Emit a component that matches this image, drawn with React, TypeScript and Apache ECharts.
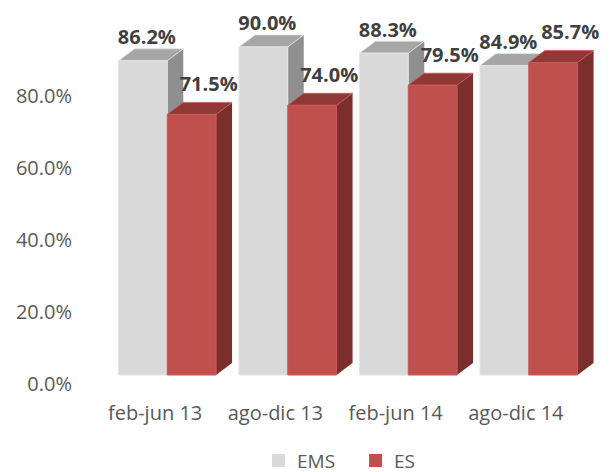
import React, { useEffect, useRef } from "react";
import * as echarts from "echarts";

const categories = ["feb-jun 13", "ago-dic 13", "feb-jun 14", "ago-dic 14"];
const emsValues = [86.2, 90.0, 88.3, 84.9];
const esValues = [71.5, 74.0, 79.5, 85.7];
const seriesNames = ["EMS", "ES"];

const FONT = "'Open Sans', sans-serif";
const DX = 16;
const DY = -12;

const palettes: Record<string, { front: string; top: string; side: string; edge: string }> = {
  EMS: { front: "#d9d9d9", top: "#a6a6a6", side: "#8f8f8f", edge: "#e4e4e4" },
  ES: { front: "#c0504d", top: "#8f3835", side: "#7a2f2d", edge: "#c65a57" },
};

function makeRender(name: string, side: number, labelDx: number, labelDy: number) {
  const pal = palettes[name];
  return (params: any, api: any) => {
    const idx = api.value(0);
    const val = api.value(1);
    const top = api.coord([idx, val]);
    const base = api.coord([idx, 0]);
    const band = api.size([1, 0])[0];
    const w = band * 0.405;
    const cx = top[0];
    const x0 = side < 0 ? cx - w : cx;
    const x1 = x0 + w;
    const yt = top[1];
    const yb = base[1];
    return {
      type: "group",
      children: [
        {
          type: "polygon",
          shape: { points: [[x1, yt], [x1 + DX, yt + DY], [x1 + DX, yb + DY], [x1, yb]] },
          style: { fill: pal.side },
        },
        {
          type: "polygon",
          shape: { points: [[x0, yt], [x1, yt], [x1 + DX, yt + DY], [x0 + DX, yt + DY]] },
          style: { fill: pal.top, stroke: pal.edge, lineWidth: 0.8 },
        },
        {
          type: "rect",
          shape: { x: x0, y: yt, width: w, height: yb - yt },
          style: { fill: pal.front, stroke: pal.edge, lineWidth: 1 },
        },
        {
          type: "text",
          z2: 100,
          style: {
            text: val.toFixed(1) + "%",
            x: (x0 + x1) / 2 + labelDx,
            y: yt + labelDy,
            align: "center",
            verticalAlign: "middle",
            fill: "#404040",
            font: "bold 20px " + FONT,
          },
        },
      ],
    };
  };
}

export default function App() {
  const ref = useRef<HTMLDivElement>(null);
  useEffect(() => {
    if (!ref.current) return;
    const chart = echarts.init(ref.current, null, { renderer: "svg" });
    chart.setOption({
      animation: false,
      backgroundColor: "#ffffff",
      grid: [
        { left: 95, right: 34, top: 23, bottom: 89 },
        { left: 107, right: 21, top: 10.5, bottom: 97 },
      ],
      xAxis: [
        {
          type: "category",
          gridIndex: 0,
          data: categories,
          axisLine: { show: false },
          axisTick: { show: false },
          axisLabel: { color: "#595959", fontSize: 20, fontFamily: FONT, margin: 19, interval: 0 },
        },
        {
          type: "category",
          gridIndex: 1,
          data: categories,
          show: false,
        },
      ],
      yAxis: [
        {
          type: "value",
          gridIndex: 0,
          min: 0,
          max: 100,
          interval: 20,
          axisLine: { show: false },
          axisTick: { show: false },
          splitLine: { show: false },
          axisLabel: {
            color: "#595959",
            fontSize: 20,
            fontFamily: FONT,
            margin: 23,
            formatter: (v: number) => (v >= 100 ? "" : v.toFixed(1) + "%"),
          },
        },
        { type: "value", gridIndex: 1, min: 0, max: 100, show: false },
      ],
      legend: {
        data: seriesNames,
        left: 267,
        top: 446,
        itemWidth: 13,
        itemHeight: 13,
        itemGap: 34,
        icon: "rect",
        textStyle: { color: "#595959", fontSize: 19, fontFamily: FONT, padding: [0, 0, 0, 7] },
      },
      series: [
        {
          name: "EMS",
          type: "custom",
          xAxisIndex: 1,
          yAxisIndex: 1,
          itemStyle: { color: "#d9d9d9" },
          renderItem: makeRender("EMS", -1, 4, -24),
          encode: { x: 0, y: 1 },
          data: emsValues.map((v, i) => [i, v]),
        },
        {
          name: "ES",
          type: "custom",
          xAxisIndex: 1,
          yAxisIndex: 1,
          itemStyle: { color: "#c0504d" },
          renderItem: makeRender("ES", 1, 17, -31),
          encode: { x: 0, y: 1 },
          data: esValues.map((v, i) => [i, v]),
        },
      ],
    });
    return () => chart.dispose();
  }, []);
  return <div ref={ref} style={{ width: 610, height: 472, position: "absolute", left: 0, top: 0 }} />;
}
